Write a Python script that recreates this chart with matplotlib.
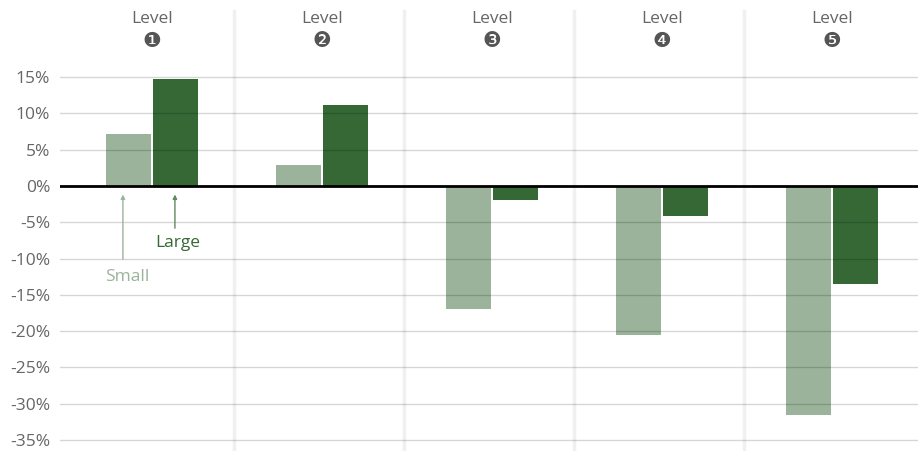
import numpy as np
import matplotlib
matplotlib.use("Agg")
import matplotlib.pyplot as plt

plt.rcParams['font.family'] = ['Open Sans', 'DejaVu Sans']

# values in percent
levels = ["Level", "Level", "Level", "Level", "Level"]
badges = ["\u2776", "\u2777", "\u2778", "\u2779", "\u277a"]
small = [7.2, 2.9, -16.9, -20.5, -31.6]
large = [14.7, 11.1, -1.9, -4.1, -13.5]
yticks = [15, 10, 5, 0, -5, -10, -15, -20, -25, -30, -35]

c_small = "#9bb39b"
c_large = "#356835"

fig = plt.figure(figsize=(9.18, 4.51), dpi=100)
ax = fig.add_axes([60 / 918, 0, 858 / 918, 1])
x = np.arange(len(levels))
w = 0.265
off = 0.138

ax.bar(x - off, small, w, color=c_small, zorder=2)
ax.bar(x + off, large, w, color=c_large, zorder=2)

ax.set_xlim(-0.541, 4.506)
ax.set_ylim(-36.5, 25.6)

# gridlines over the bars
for t in yticks:
    if t != 0:
        ax.axhline(t, color=(0, 0, 0, 0.16), lw=1, zorder=3)
ax.axhline(0, color="black", lw=2, zorder=4)

# group separators
for s in x[:-1] + 0.485:
    ax.axvline(s, ymin=0, ymax=0.975, color="#f0f0f0", lw=2.5, zorder=1)

ax.set_yticks(yticks)
ax.set_yticklabels([f"{t}%" for t in yticks], color="#666666", fontsize=12.5)
ax.tick_params(axis="y", length=0, pad=7)
ax.set_xticks([])
for sp in ax.spines.values():
    sp.set_visible(False)

# level headers
for i, (lab, b) in enumerate(zip(levels, badges)):
    ax.text(i, 23.0, lab, ha="center", va="center", fontsize=12.5, color="#666666")
    ax.text(i, 20.0, b, ha="center", va="center", fontsize=15,
            color="#555555", family="DejaVu Sans")

# series labels with arrows
ax.annotate("", xy=(-0.171, -0.8), xytext=(-0.171, -10.5),
            arrowprops=dict(arrowstyle="-|>", color=c_small, lw=1, mutation_scale=6))
ax.text(-0.145, -12.6, "Small", color=c_small, ha="center", va="center", fontsize=12.5)
ax.annotate("", xy=(0.135, -0.8), xytext=(0.135, -6.2),
            arrowprops=dict(arrowstyle="-|>", color="#5e8a5e", lw=1, mutation_scale=6))
ax.text(0.15, -7.8, "Large", color=c_large, ha="center", va="center", fontsize=12.5)

fig.savefig("out.png", dpi=100)
